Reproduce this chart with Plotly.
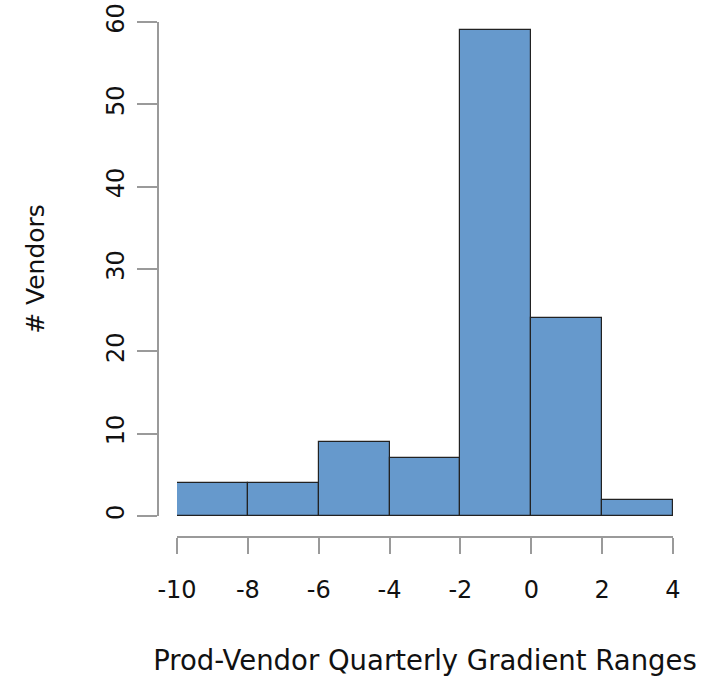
import plotly.graph_objects as go

bin_left = [-10, -8, -6, -4, -2, 0, 2]
bin_width = 2
counts = [4, 4, 9, 7, 59, 24, 2]
x_ticks = [-10, -8, -6, -4, -2, 0, 2, 4]
y_ticks = [0, 10, 20, 30, 40, 50, 60]

W, H = 707, 676
centers = [b + bin_width / 2 for b in bin_left]

fig = go.Figure()
fig.add_trace(go.Bar(
    x=centers, y=counts, width=[bin_width] * len(counts),
    marker=dict(color="#6699CC", line=dict(color="#222222", width=1.2)),
    hoverinfo="x+y", showlegend=False,
))

font = "DejaVu Sans, Liberation Sans, Arial, sans-serif"
axis_col = "#9a9a9a"

fig.update_layout(
    width=W, height=H,
    margin=dict(l=0, r=0, t=0, b=0),
    paper_bgcolor="white", plot_bgcolor="white",
    bargap=0,
    font=dict(family=font, size=24, color="#111111"),
    xaxis=dict(
        domain=[177 / W, 673 / W], range=[-10, 4],
        anchor="free", position=1 - 537 / H, automargin=False,
        tickvals=x_ticks, ticktext=[str(v) for v in x_ticks],
        ticks="outside", ticklen=16, tickwidth=2, tickcolor=axis_col,
        showline=True, linecolor=axis_col, linewidth=2,
        showgrid=False, zeroline=False,
        tickfont=dict(size=24), ticklabelstandoff=15,
        title=dict(text="Prod-Vendor Quarterly Gradient Ranges",
                   font=dict(size=27.5), standoff=47),
    ),
    yaxis=dict(
        domain=[1 - 516 / H, 1 - 22 / H], range=[0, 60],
        anchor="free", position=158 / W, automargin=False,
        tickvals=y_ticks, ticktext=[str(v) for v in y_ticks],
        ticks="outside", ticklen=20, tickwidth=2, tickcolor=axis_col,
        showline=True, linecolor=axis_col, linewidth=2,
        showgrid=False, zeroline=False,
        tickangle=-90, tickfont=dict(size=24), ticklabelstandoff=3,
        title=dict(text="# Vendors", font=dict(size=25), standoff=50),
    ),
)

fig.write_html("out.html")
